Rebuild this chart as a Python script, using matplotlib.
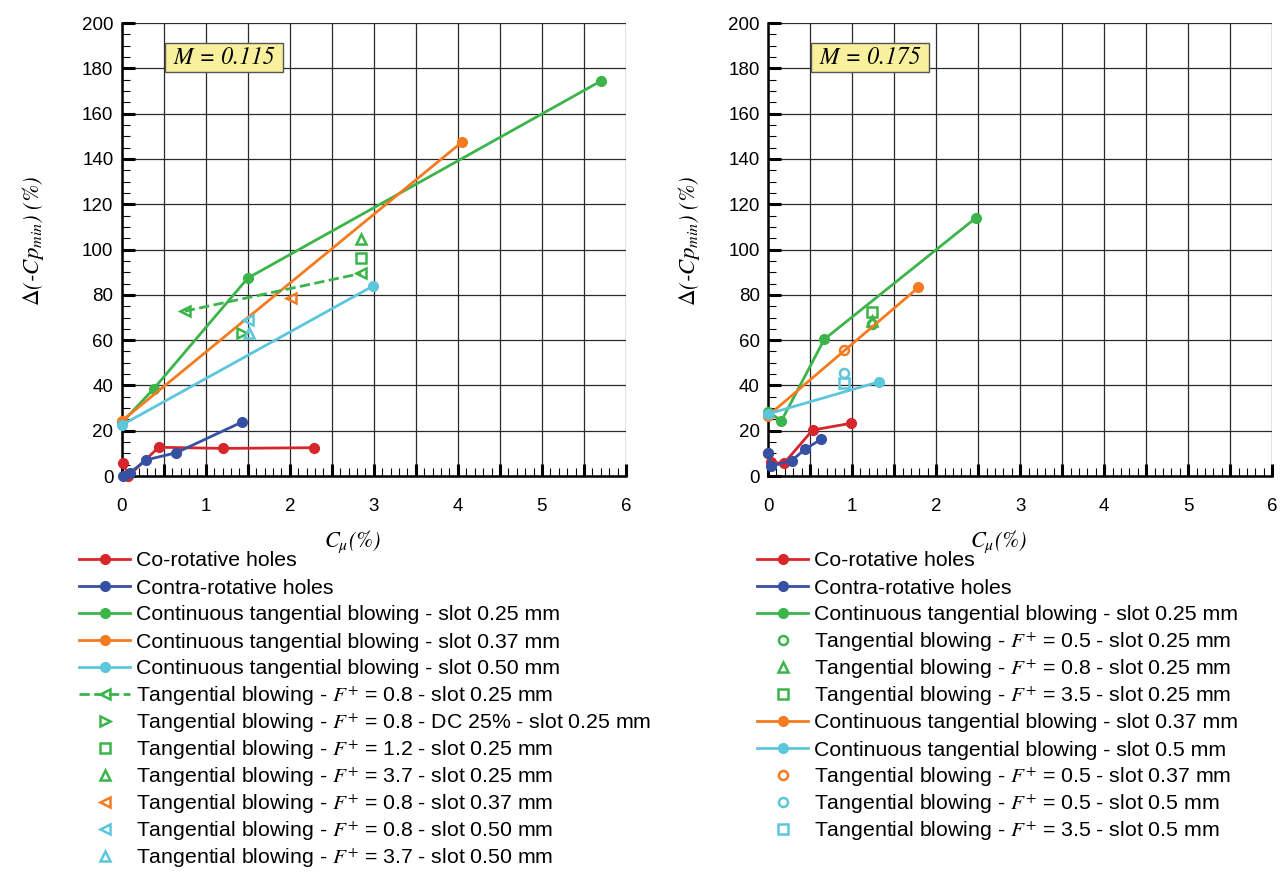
import matplotlib.pyplot as plt
from matplotlib.ticker import MultipleLocator, FuncFormatter

plt.rcParams["font.family"] = "Liberation Sans"
plt.rcParams["mathtext.fontset"] = "stix"

# --- colours
red = "#d7262b"
blue = "#3651a3"
green = "#3bb44a"
orange = "#f47b20"
cyan = "#5cc6dc"

# --- M = 0.115 data
co_x_115 = [0.02, 0.08, 0.44, 1.20, 2.29]
co_y_115 = [5.6, 0.0, 12.7, 12.2, 12.5]
contra_x_115 = [0.02, 0.10, 0.29, 0.65, 1.43]
contra_y_115 = [0.0, 1.5, 7.1, 10.3, 23.8]
cont025_x_115 = [0.0, 0.38, 1.50, 5.70]
cont025_y_115 = [23.5, 38.5, 87.4, 174.4]
cont037_x_115 = [0.0, 4.05]
cont037_y_115 = [24.3, 147.5]
cont050_x_115 = [0.0, 2.99]
cont050_y_115 = [22.5, 83.9]
f08_025_x_115 = [0.75, 2.85]
f08_025_y_115 = [72.8, 89.5]
f08dc_025_x_115 = [1.43]
f08dc_025_y_115 = [63.3]
f12_025_x_115 = [2.85]
f12_025_y_115 = [96.1]
f37_025_x_115 = [2.85]
f37_025_y_115 = [104.5]
f08_037_x_115 = [2.01]
f08_037_y_115 = [78.5]
f08_050_x_115 = [1.50]
f08_050_y_115 = [68.9]
f37_050_x_115 = [1.52]
f37_050_y_115 = [63.0]

# --- M = 0.175 data
co_x_175 = [0.0, 0.03, 0.19, 0.53, 0.99]
co_y_175 = [10.0, 6.0, 5.6, 20.3, 23.3]
contra_x_175 = [0.0, 0.04, 0.28, 0.44, 0.63]
contra_y_175 = [10.0, 4.4, 6.8, 11.8, 16.2]
cont025_x_175 = [0.0, 0.16, 0.67, 2.47]
cont025_y_175 = [28.4, 24.4, 60.4, 113.9]
f05_025_x_175 = [1.24]
f05_025_y_175 = [67.0]
f08_025_x_175 = [1.24]
f08_025_y_175 = [68.6]
f35_025_x_175 = [1.24]
f35_025_y_175 = [72.5]
cont037_x_175 = [0.0, 1.79]
cont037_y_175 = [26.6, 83.3]
cont05_x_175 = [0.0, 1.32]
cont05_y_175 = [27.4, 41.6]
f05_037_x_175 = [0.90]
f05_037_y_175 = [55.6]
f05_05_x_175 = [0.90]
f05_05_y_175 = [45.6]
f35_05_x_175 = [0.90]
f35_05_y_175 = [41.2]

F = r"$F^{+}$"

# (x, y, color, marker, linestyle, filled, label)
series_115 = [
    (co_x_115, co_y_115, red, "o", "-", True, "Co-rotative holes"),
    (contra_x_115, contra_y_115, blue, "o", "-", True, "Contra-rotative holes"),
    (cont025_x_115, cont025_y_115, green, "o", "-", True,
     "Continuous tangential blowing - slot 0.25 mm"),
    (cont037_x_115, cont037_y_115, orange, "o", "-", True,
     "Continuous tangential blowing - slot 0.37 mm"),
    (cont050_x_115, cont050_y_115, cyan, "o", "-", True,
     "Continuous tangential blowing - slot 0.50 mm"),
    (f08_025_x_115, f08_025_y_115, green, "<", "--", False,
     f"Tangential blowing - {F} = 0.8 - slot 0.25 mm"),
    (f08dc_025_x_115, f08dc_025_y_115, green, ">", "none", False,
     f"Tangential blowing - {F} = 0.8 - DC 25% - slot 0.25 mm"),
    (f12_025_x_115, f12_025_y_115, green, "s", "none", False,
     f"Tangential blowing - {F} = 1.2 - slot 0.25 mm"),
    (f37_025_x_115, f37_025_y_115, green, "^", "none", False,
     f"Tangential blowing - {F} = 3.7 - slot 0.25 mm"),
    (f08_037_x_115, f08_037_y_115, orange, "<", "none", False,
     f"Tangential blowing - {F} = 0.8 - slot 0.37 mm"),
    (f08_050_x_115, f08_050_y_115, cyan, "<", "none", False,
     f"Tangential blowing - {F} = 0.8 - slot 0.50 mm"),
    (f37_050_x_115, f37_050_y_115, cyan, "^", "none", False,
     f"Tangential blowing - {F} = 3.7 - slot 0.50 mm"),
]

series_175 = [
    (co_x_175, co_y_175, red, "o", "-", True, "Co-rotative holes"),
    (contra_x_175, contra_y_175, blue, "o", "-", True, "Contra-rotative holes"),
    (cont025_x_175, cont025_y_175, green, "o", "-", True,
     "Continuous tangential blowing - slot 0.25 mm"),
    (f05_025_x_175, f05_025_y_175, green, "o", "none", False,
     f"Tangential blowing - {F} = 0.5 - slot 0.25 mm"),
    (f08_025_x_175, f08_025_y_175, green, "^", "none", False,
     f"Tangential blowing - {F} = 0.8 - slot 0.25 mm"),
    (f35_025_x_175, f35_025_y_175, green, "s", "none", False,
     f"Tangential blowing - {F} = 3.5 - slot 0.25 mm"),
    (cont037_x_175, cont037_y_175, orange, "o", "-", True,
     "Continuous tangential blowing - slot 0.37 mm"),
    (cont05_x_175, cont05_y_175, cyan, "o", "-", True,
     "Continuous tangential blowing - slot 0.5 mm"),
    (f05_037_x_175, f05_037_y_175, orange, "o", "none", False,
     f"Tangential blowing - {F} = 0.5 - slot 0.37 mm"),
    (f05_05_x_175, f05_05_y_175, cyan, "o", "none", False,
     f"Tangential blowing - {F} = 0.5 - slot 0.5 mm"),
    (f35_05_x_175, f35_05_y_175, cyan, "s", "none", False,
     f"Tangential blowing - {F} = 3.5 - slot 0.5 mm"),
]


def draw_panel(ax, series, mach_text):
    for x, y, c, m, ls, filled, label in series:
        if filled:
            ax.plot(x, y, color=c, linestyle=ls, linewidth=2, marker=m,
                    markersize=7, markerfacecolor=c, markeredgecolor=c,
                    label=label, clip_on=False, zorder=3)
        else:
            ax.plot(x, y, color=c, linestyle=ls, linewidth=2, marker=m,
                    markersize=6.5, markerfacecolor="none", markeredgecolor=c,
                    markeredgewidth=1.8, label=label, clip_on=False, zorder=3)

    ax.set_xlim(0, 6)
    ax.set_ylim(0, 200)
    ax.xaxis.set_major_locator(MultipleLocator(0.5))
    ax.xaxis.set_minor_locator(MultipleLocator(0.1))
    ax.xaxis.set_major_formatter(
        FuncFormatter(lambda v, p: f"{v:.0f}" if abs(v - round(v)) < 1e-6 else ""))
    ax.yaxis.set_major_locator(MultipleLocator(20))
    ax.yaxis.set_minor_locator(MultipleLocator(5))

    ax.grid(True, which="major", color="#2a2a2a", linewidth=0.9)
    ax.set_axisbelow(True)
    ax.get_ygridlines()[-1].set_visible(False)

    ax.spines["top"].set_visible(False)
    ax.spines["right"].set_visible(False)
    ax.spines["left"].set_linewidth(1.8)
    ax.spines["bottom"].set_linewidth(1.8)

    ax.tick_params(which="major", direction="in", length=9, width=2.2,
                   labelsize=13.5)
    ax.tick_params(which="minor", direction="in", length=5.5, width=0.8)
    ax.tick_params(axis="x", which="major", pad=16)
    ax.tick_params(axis="y", which="major", pad=6)

    ax.set_xlabel(r"$C_{\mu}$(%)", fontsize=16, fontfamily="STIXGeneral",
                  style="italic")
    ax.set_ylabel(r"$\Delta$(-$Cp_{min}$) (%)", fontsize=16.5,
                  fontfamily="STIXGeneral", style="italic")

    ax.text(1.216, 184.8, " " + mach_text + " ", fontsize=17,
            fontfamily="STIXGeneral", style="italic", ha="center", va="center",
            zorder=4,
            bbox=dict(boxstyle="square,pad=0.12", facecolor="#f8f09c",
                      edgecolor="#555555", linewidth=1.0))


fig = plt.figure(figsize=(12.88, 8.76), dpi=100)
ax1 = fig.add_axes([0.0945, 0.4566, 0.3915, 0.517])
ax2 = fig.add_axes([0.5963, 0.4566, 0.3915, 0.517])

draw_panel(ax1, series_115, "M = 0.115")
draw_panel(ax2, series_175, "M = 0.175")

ax1.yaxis.set_label_coords(-0.15, 0.52)
ax2.yaxis.set_label_coords(-0.13, 0.52)
ax1.xaxis.set_label_coords(0.457, -0.115)
ax2.xaxis.set_label_coords(0.456, -0.115)

# one legend per row so that rows with mathtext keep an even spacing
row0 = 561
row_step = 27
for ax, x0 in [(ax1, 79), (ax2, 757)]:
    handles, labels = ax.get_legend_handles_labels()
    for i, (h, l) in enumerate(zip(handles, labels)):
        yc = row0 + row_step * i
        fig.legend([h], [l], loc="center left",
                   bbox_to_anchor=(x0 / 1288, 1 - yc / 876),
                   bbox_transform=fig.transFigure, frameon=False,
                   fontsize=15.3, handlelength=2.4, handletextpad=0.3,
                   borderpad=0, borderaxespad=0)

fig.savefig("out.png", dpi=100)
